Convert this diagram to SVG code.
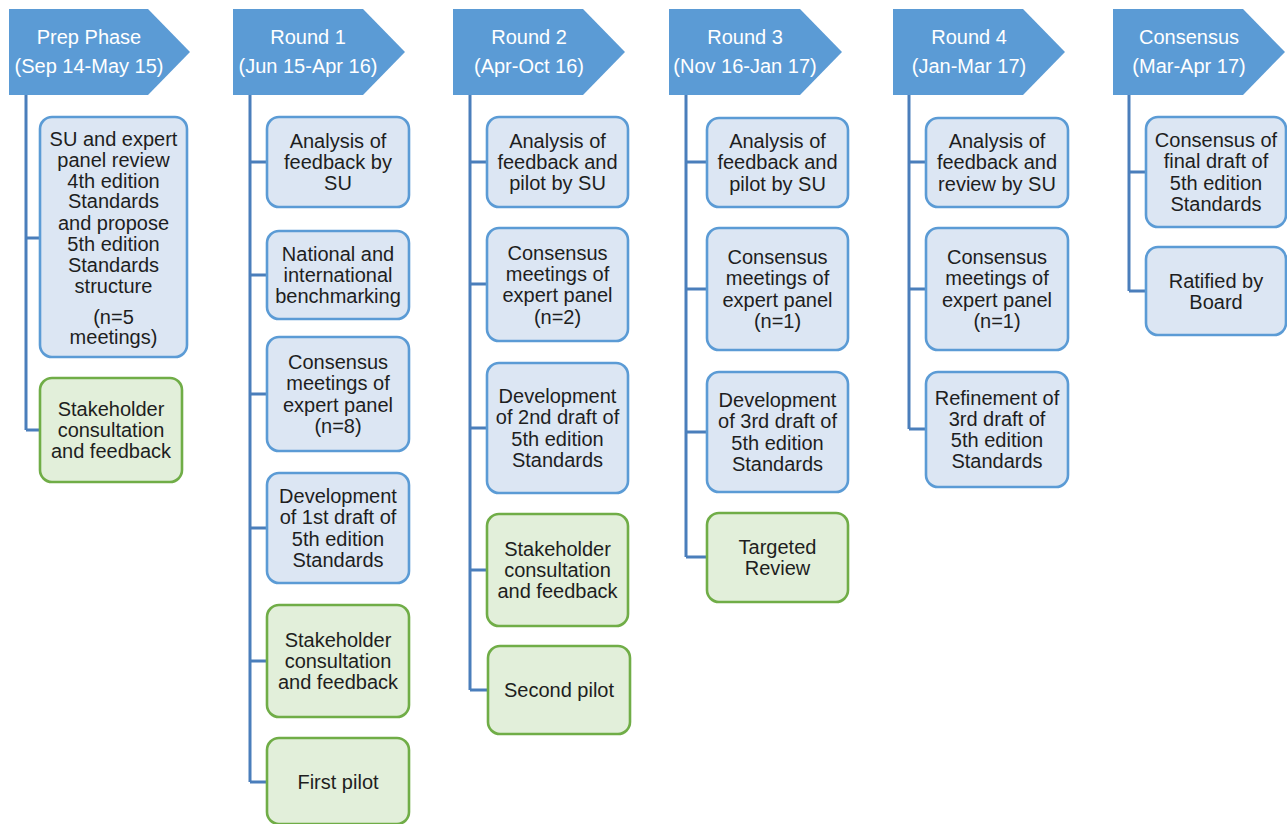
<svg xmlns="http://www.w3.org/2000/svg" width="1287" height="824" viewBox="0 0 1287 824">
<style>
.hdr{fill:#5b9bd5}
.ht{font-family:"Liberation Sans",Arial,sans-serif;font-size:20px;fill:#ffffff;text-anchor:middle}
.bx{fill:#dce6f3;stroke:#5b9bd5;stroke-width:2.6}
.gx{fill:#e2efda;stroke:#70ad47;stroke-width:2.6}
.t{font-family:"Liberation Sans",Arial,sans-serif;font-size:20px;fill:#1e1e1e;text-anchor:middle}
.c{fill:none;stroke:#4a7ebb;stroke-width:3}
</style>
<rect width="1287" height="824" fill="#ffffff"/>
<g id="connectors">
<path class="c" d="M26 95 V430 M26 238 H40 M26 430 H40"/>
<path class="c" d="M250 95 V782 M250 162 H267 M250 275 H267 M250 394 H267 M250 528 H267 M250 661 H267 M250 782 H267"/>
<path class="c" d="M470 95 V690 M470 162 H487 M470 284 H487 M470 428 H487 M470 570 H487 M470 690 H488"/>
<path class="c" d="M686 95 V557 M686 162 H707 M686 289 H707 M686 432 H707 M686 557 H707"/>
<path class="c" d="M909 95 V429 M909 162 H926 M909 289 H926 M909 429 H926"/>
<path class="c" d="M1129 95 V291 M1129 172 H1146 M1129 291 H1146"/>
</g>
<g id="h-prep"><path class="hdr" d="M9 9 H148 L190 52 L148 95 H9 Z"/><text class="ht" x="89" y="44">Prep Phase</text><text class="ht" x="89" y="73">(Sep 14-May 15)</text></g>
<g id="h-r1"><path class="hdr" d="M233 9 H363 L405 52 L363 95 H233 Z"/><text class="ht" x="308" y="44">Round 1</text><text class="ht" x="308" y="73">(Jun 15-Apr 16)</text></g>
<g id="h-r2"><path class="hdr" d="M453 9 H583 L625 52 L583 95 H453 Z"/><text class="ht" x="529" y="44">Round 2</text><text class="ht" x="529" y="73">(Apr-Oct 16)</text></g>
<g id="h-r3"><path class="hdr" d="M669 9 H800 L842 52 L800 95 H669 Z"/><text class="ht" x="745" y="44">Round 3</text><text class="ht" x="745" y="73">(Nov 16-Jan 17)</text></g>
<g id="h-r4"><path class="hdr" d="M893 9 H1023 L1065 52 L1023 95 H893 Z"/><text class="ht" x="969" y="44">Round 4</text><text class="ht" x="969" y="73">(Jan-Mar 17)</text></g>
<g id="h-cons"><path class="hdr" d="M1113 9 H1243 L1285 52 L1243 95 H1113 Z"/><text class="ht" x="1189" y="44">Consensus</text><text class="ht" x="1189" y="73">(Mar-Apr 17)</text></g>

<g id="p1"><rect class="bx" x="40" y="117" width="147" height="240" rx="12"/><text class="t"><tspan x="113.5" y="146">SU and expert</tspan><tspan x="113.5" y="167">panel review</tspan><tspan x="113.5" y="188">4th edition</tspan><tspan x="113.5" y="208">Standards</tspan><tspan x="113.5" y="230">and propose</tspan><tspan x="113.5" y="251">5th edition</tspan><tspan x="113.5" y="272">Standards</tspan><tspan x="113.5" y="293">structure</tspan><tspan x="113.5" y="324">(n=5</tspan><tspan x="113.5" y="344">meetings)</tspan></text></g>
<g id="p2"><rect class="gx" x="40" y="378" width="142" height="104" rx="12"/><text class="t"><tspan x="111" y="416">Stakeholder</tspan><tspan x="111" y="437">consultation</tspan><tspan x="111" y="458">and feedback</tspan></text></g>

<g id="r1a"><rect class="bx" x="267" y="117" width="142" height="90" rx="12"/><text class="t"><tspan x="338" y="148">Analysis of</tspan><tspan x="338" y="169">feedback by</tspan><tspan x="338" y="190">SU</tspan></text></g>
<g id="r1b"><rect class="bx" x="267" y="231" width="142" height="88" rx="12"/><text class="t"><tspan x="338" y="261">National and</tspan><tspan x="338" y="282">international</tspan><tspan x="338" y="303">benchmarking</tspan></text></g>
<g id="r1c"><rect class="bx" x="267" y="337" width="142" height="114" rx="12"/><text class="t"><tspan x="338" y="369">Consensus</tspan><tspan x="338" y="390">meetings of</tspan><tspan x="338" y="412">expert panel</tspan><tspan x="338" y="433">(n=8)</tspan></text></g>
<g id="r1d"><rect class="bx" x="267" y="473" width="142" height="110" rx="12"/><text class="t"><tspan x="338" y="503">Development</tspan><tspan x="338" y="524">of 1st draft of</tspan><tspan x="338" y="546">5th edition</tspan><tspan x="338" y="567">Standards</tspan></text></g>
<g id="r1e"><rect class="gx" x="267" y="605" width="142" height="112" rx="12"/><text class="t"><tspan x="338" y="647">Stakeholder</tspan><tspan x="338" y="668">consultation</tspan><tspan x="338" y="689">and feedback</tspan></text></g>
<g id="r1f"><rect class="gx" x="267" y="738" width="142" height="86" rx="12"/><text class="t"><tspan x="338" y="789">First pilot</tspan></text></g>

<g id="r2a"><rect class="bx" x="487" y="117" width="141" height="90" rx="12"/><text class="t"><tspan x="557.5" y="148">Analysis of</tspan><tspan x="557.5" y="169">feedback and</tspan><tspan x="557.5" y="190">pilot by SU</tspan></text></g>
<g id="r2b"><rect class="bx" x="487" y="228" width="141" height="113" rx="12"/><text class="t"><tspan x="557.5" y="260">Consensus</tspan><tspan x="557.5" y="281">meetings of</tspan><tspan x="557.5" y="302">expert panel</tspan><tspan x="557.5" y="324">(n=2)</tspan></text></g>
<g id="r2c"><rect class="bx" x="487" y="363" width="141" height="130" rx="12"/><text class="t"><tspan x="557.5" y="403">Development</tspan><tspan x="557.5" y="424">of 2nd draft of</tspan><tspan x="557.5" y="446">5th edition</tspan><tspan x="557.5" y="467">Standards</tspan></text></g>
<g id="r2d"><rect class="gx" x="487" y="514" width="141" height="112" rx="12"/><text class="t"><tspan x="557.5" y="556">Stakeholder</tspan><tspan x="557.5" y="577">consultation</tspan><tspan x="557.5" y="598">and feedback</tspan></text></g>
<g id="r2e"><rect class="gx" x="488" y="646" width="142" height="88" rx="12"/><text class="t"><tspan x="559" y="697">Second pilot</tspan></text></g>

<g id="r3a"><rect class="bx" x="707" y="118" width="141" height="89" rx="12"/><text class="t"><tspan x="777.5" y="148">Analysis of</tspan><tspan x="777.5" y="169">feedback and</tspan><tspan x="777.5" y="191">pilot by SU</tspan></text></g>
<g id="r3b"><rect class="bx" x="707" y="228" width="141" height="122" rx="12"/><text class="t"><tspan x="777.5" y="264">Consensus</tspan><tspan x="777.5" y="285">meetings of</tspan><tspan x="777.5" y="307">expert panel</tspan><tspan x="777.5" y="328">(n=1)</tspan></text></g>
<g id="r3c"><rect class="bx" x="707" y="372" width="141" height="120" rx="12"/><text class="t"><tspan x="777.5" y="407">Development</tspan><tspan x="777.5" y="428">of 3rd draft of</tspan><tspan x="777.5" y="450">5th edition</tspan><tspan x="777.5" y="471">Standards</tspan></text></g>
<g id="r3d"><rect class="gx" x="707" y="513" width="141" height="89" rx="12"/><text class="t"><tspan x="777.5" y="554">Targeted</tspan><tspan x="777.5" y="575">Review</tspan></text></g>

<g id="r4a"><rect class="bx" x="926" y="118" width="142" height="89" rx="12"/><text class="t"><tspan x="997" y="148">Analysis of</tspan><tspan x="997" y="169">feedback and</tspan><tspan x="997" y="191">review by SU</tspan></text></g>
<g id="r4b"><rect class="bx" x="926" y="228" width="142" height="122" rx="12"/><text class="t"><tspan x="997" y="264">Consensus</tspan><tspan x="997" y="285">meetings of</tspan><tspan x="997" y="307">expert panel</tspan><tspan x="997" y="328">(n=1)</tspan></text></g>
<g id="r4c"><rect class="bx" x="926" y="372" width="142" height="115" rx="12"/><text class="t"><tspan x="997" y="405">Refinement of</tspan><tspan x="997" y="426">3rd draft of</tspan><tspan x="997" y="447">5th edition</tspan><tspan x="997" y="468">Standards</tspan></text></g>

<g id="c1"><rect class="bx" x="1146" y="117" width="140" height="110" rx="12"/><text class="t"><tspan x="1216" y="147">Consensus of</tspan><tspan x="1216" y="168">final draft of</tspan><tspan x="1216" y="190">5th edition</tspan><tspan x="1216" y="211">Standards</tspan></text></g>
<g id="c2"><rect class="bx" x="1146" y="247" width="140" height="88" rx="12"/><text class="t"><tspan x="1216" y="288">Ratified by</tspan><tspan x="1216" y="309">Board</tspan></text></g>
</svg>
